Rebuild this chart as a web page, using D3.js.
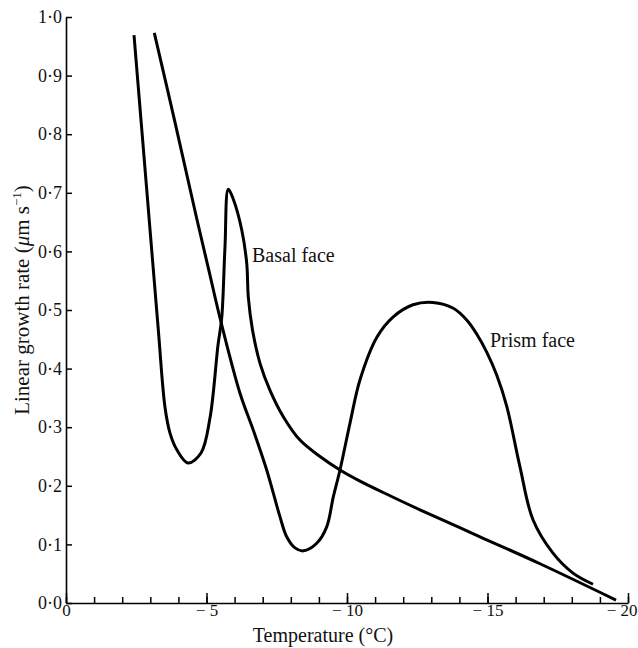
<!DOCTYPE html>
<html>
<head>
<meta charset="utf-8">
<script src="https://cdn.jsdelivr.net/npm/d3@7"></script>
<style>
  body { margin: 0; background: #fff; }
  text { font-family: "Liberation Serif", "DejaVu Serif", serif; fill: #111; }
</style>
</head>
<body>
<div id="chart"></div>
<script>
// Data (temperature in degC, growth rate in um/s)
var basalTemp = [-2.42, -2.865, -3.285, -3.523, -3.701, -3.95, -4.342, -4.804, -5.125, -5.409, -5.541, -5.658, -5.776,
  -5.954, -6.253, -6.431, -6.488, -6.637, -6.904, -7.26, -7.733, -8.327, -9.039, -9.751, -10.463, -11.53, -12.598,
  -14.733, -16.868, -19.573];
var basalRate = [0.969, 0.710, 0.466, 0.334, 0.290, 0.261, 0.239, 0.256, 0.316, 0.440, 0.486, 0.608, 0.706,
  0.689, 0.637, 0.580, 0.522, 0.466, 0.409, 0.363, 0.318, 0.278, 0.250, 0.227, 0.208, 0.183, 0.159,
  0.113, 0.067, 0.005];

var prismTemp = [-3.142, -3.861, -4.662, -5.107, -5.498, -6.192, -6.665, -7.142, -7.616, -7.854, -8.149, -8.445, -8.922,
  -9.278, -9.512, -9.751, -10.107, -10.463, -11.068, -11.637, -12.349, -13.06, -13.783, -14.26, -14.616, -14.972,
  -15.327, -15.683, -16.157, -16.619, -17.331, -18.043, -18.754];
var prismRate = [0.973, 0.824, 0.654, 0.563, 0.483, 0.358, 0.295, 0.227, 0.147, 0.113, 0.094, 0.089, 0.102,
  0.130, 0.181, 0.227, 0.307, 0.381, 0.454, 0.488, 0.509, 0.513, 0.503, 0.483, 0.459, 0.428,
  0.389, 0.336, 0.232, 0.142, 0.085, 0.051, 0.032];

var yTicks = [0, 0.1, 0.2, 0.3, 0.4, 0.5, 0.6, 0.7, 0.8, 0.9, 1.0];
var xMajorTicks = [0, -5, -10, -15, -20];
var xMinorTicks = d3.range(0, -21, -1);

var svgWidth = 638;
var svgHeight = 648;

var svg = d3.select("#chart")
  .append("svg")
  .attr("width", svgWidth)
  .attr("height", svgHeight);

var xScale = d3.scaleLinear().domain([0, -20]).range([66, 628]);
var yScale = d3.scaleLinear().domain([0, 1]).range([603, 17]);

// x axis: minor ticks, then major ticks with labels (ticks point up into the plot)
svg.append("g")
  .attr("transform", "translate(0," + yScale(0) + ")")
  .call(d3.axisBottom(xScale).tickValues(xMinorTicks).tickSize(-6).tickFormat(""))
  .call(g => g.select(".domain").remove())
  .selectAll("line").attr("stroke-width", 1.5);

var xAxis = svg.append("g")
  .attr("transform", "translate(0," + yScale(0) + ")")
  .call(d3.axisBottom(xScale).tickValues(xMajorTicks).tickSize(-10).tickSizeOuter(0).tickPadding(1)
    .tickFormat(d => d === 0 ? "0" : "\u2212 " + Math.abs(d)));
xAxis.select(".domain").attr("stroke-width", 1.6);
xAxis.selectAll("line").attr("stroke-width", 1.5);
xAxis.selectAll("text").attr("font-size", 17);
// last label sits against the right edge, as in the original
xAxis.selectAll(".tick").filter(d => d === -20).select("text")
  .attr("text-anchor", "end").attr("x", 637 - xScale(-20));

// y axis with inward ticks
var yAxis = svg.append("g")
  .attr("transform", "translate(" + xScale(0) + ",0)")
  .call(d3.axisLeft(yScale).tickValues(yTicks).tickSize(-6).tickSizeOuter(0).tickPadding(4)
    .tickFormat(d => d3.format(".1f")(d).replace(".", "\u00b7")));
yAxis.select(".domain").attr("stroke-width", 1.6);
yAxis.selectAll("line").attr("stroke-width", 1.5);
yAxis.selectAll("text").attr("font-size", 18);

// curves
var line = d3.line()
  .x(d => xScale(d[0]))
  .y(d => yScale(d[1]))
  .curve(d3.curveCatmullRom.alpha(0.5));

var basal = d3.zip(basalTemp, basalRate);
var prism = d3.zip(prismTemp, prismRate);

svg.append("path")
  .datum(basal)
  .attr("d", line)
  .attr("fill", "none")
  .attr("stroke", "#000")
  .attr("stroke-width", 3);

svg.append("path")
  .datum(prism)
  .attr("d", line)
  .attr("fill", "none")
  .attr("stroke", "#000")
  .attr("stroke-width", 3);

// curve labels
svg.append("text")
  .attr("x", 252)
  .attr("y", 262)
  .attr("font-size", 20)
  .text("Basal face");

svg.append("text")
  .attr("x", 490)
  .attr("y", 347)
  .attr("font-size", 20)
  .text("Prism face");

// axis titles
svg.append("text")
  .attr("x", 323)
  .attr("y", 642)
  .attr("text-anchor", "middle")
  .attr("font-size", 20)
  .text("Temperature (\u00b0C)");

var yTitle = svg.append("text")
  .attr("transform", "translate(29,300) rotate(-90)")
  .attr("text-anchor", "middle")
  .attr("font-size", 21);
yTitle.append("tspan").text("Linear growth rate (");
yTitle.append("tspan").attr("font-style", "italic").text("\u03bc");
yTitle.append("tspan").text("m s");
yTitle.append("tspan").attr("font-size", 13).attr("dy", "-0.6em").text("\u22121");
yTitle.append("tspan").attr("dy", "0.35em").text(")");
</script>
</body>
</html>
